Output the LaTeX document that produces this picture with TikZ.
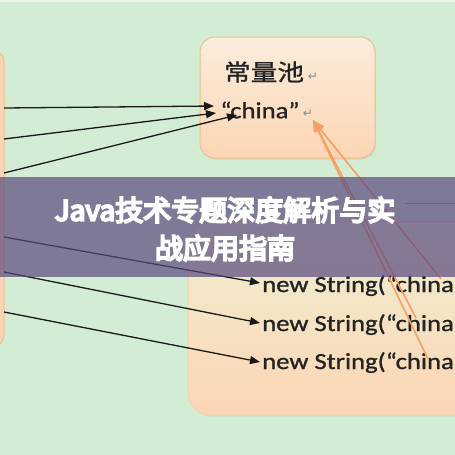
\documentclass[tikz,border=0pt]{standalone}
\usepackage{fontspec}
\usepackage{graphicx}
\usetikzlibrary{arrows.meta,shadows}
\setmainfont{Carlito}[FakeBold=1]
\newfontfamily\cjk{Noto Sans CJK SC}[FakeBold=1]
\newfontfamily\cjkheavy{Noto Sans CJK SC}[FakeBold=7]
\newfontfamily\symfont{DejaVu Sans}
\definecolor{bgc}{RGB}{211,237,212}
\definecolor{peach}{RGB}{252,213,180}
\definecolor{peachtop}{RGB}{250,237,220}
\definecolor{heaptop}{RGB}{238,240,210}
\definecolor{boxline}{RGB}{240,190,140}
\definecolor{inkc}{RGB}{35,35,35}
\definecolor{arrowk}{RGB}{25,25,25}
\definecolor{orangec}{RGB}{246,160,100}
\definecolor{bannerc}{RGB}{89,73,126}
\definecolor{retc}{RGB}{140,140,140}
\tikzset{
  blackarrow/.style={draw=arrowk, line width=1.3pt, -{Triangle[length=10pt,width=8pt]}},
  orangearrow/.style={draw=orangec, line width=1.6pt, -{Triangle[length=12pt,width=9pt]}},
  codetext/.style={text=inkc, font=\fontsize{23}{23}\selectfont, inner sep=0pt},
  rettext/.style={text=retc, font=\symfont\fontsize{12}{12}\selectfont, inner sep=0pt},
}
\newcommand{\wide}[1]{\scalebox{1.16}[1]{#1}}
\begin{document}
\begin{tikzpicture}[x=1pt,y=-1pt]
\useasboundingbox (0,0) rectangle (455,455);
\clip (0,0) rectangle (455,455);
\fill[bgc] (0,0) rectangle (455,455);
\fill[white, opacity=0.5] (0,0) rectangle (455,2);

% left (stack) box
\draw[draw=boxline, line width=1pt, fill=peach, rounded corners=12pt] (-60,50) rectangle (4,347);

% constant pool box
\shade[draw=boxline, line width=1pt, top color=peachtop, bottom color=peach, rounded corners=15pt,
  drop shadow={opacity=0.15, shadow xshift=1pt, shadow yshift=-1.5pt}] (200,37) rectangle (375,158);

% heap box
\shade[draw=boxline!70!white, line width=1pt, top color=heaptop, bottom color=peach, rounded corners=22pt,
  drop shadow={opacity=0.12, shadow xshift=1pt, shadow yshift=-1.5pt}] (188,222) rectangle (540,415);

% pool texts
\node[codetext, font=\cjk\fontsize{23}{23}\selectfont] (pooltitle) at (264,72) {\wide{常量池}};
\node[rettext] (ret1) at (313,77) {↵};
\node[codetext] (poolchina) at (260,110) {\wide{“china”}};
\node[rettext] (ret2) at (308,114) {↵};

% heap texts
\node[codetext, anchor=base west] (str1) at (262,292) {\wide{new String(“china}};
\node[codetext, anchor=base west] (str2) at (262,331) {\wide{new String(“china}};
\node[codetext, anchor=base west] (str3) at (262,369) {\wide{new String(“china}};

% coordinates
\coordinate (s1) at (4,108);
\coordinate (s2) at (4,139);
\coordinate (s3) at (4,173);
\coordinate (s4) at (4,237);
\coordinate (s5) at (4,272);
\coordinate (s6) at (4,312);
\coordinate (t1) at (214,106);
\coordinate (t2) at (216,113);
\coordinate (t3) at (237,115);
\coordinate (t4) at (260,283);
\coordinate (t5) at (260,323);
\coordinate (t6) at (260,362);
\coordinate (pooltip) at (313,120);
\coordinate (o1) at (441,279);
\coordinate (o2) at (416,318);
\coordinate (o3) at (428,359);
\coordinate (r1) at (405,203);
\coordinate (r2) at (455,203);

% black arrows
\draw[blackarrow] (s1) -- (t1);
\draw[blackarrow] (s2) -- (t2);
\draw[blackarrow] (s3) -- (t3);
\draw[blackarrow] (s4) -- (t4);
\draw[blackarrow] (s5) -- (t5);
\draw[blackarrow] (s6) -- (t6);

% orange arrows
\draw[orangearrow] (o1) -- (pooltip);
\draw[orangearrow] (o2) -- (pooltip);
\draw[orangearrow] (o3) -- (pooltip);
\draw[red!70!orange, opacity=0.5, line width=0.6pt] (r1) -- (r2);

% banner
\fill[bannerc, opacity=0.7] (0,177) rectangle (455,277);
\node[text=white, font=\cjkheavy\fontsize{28}{38}\selectfont, align=center, inner sep=0pt] (title) at (225,229)
  {Java技术专题深度解析与实\\战应用指南};
\end{tikzpicture}
\end{document}
